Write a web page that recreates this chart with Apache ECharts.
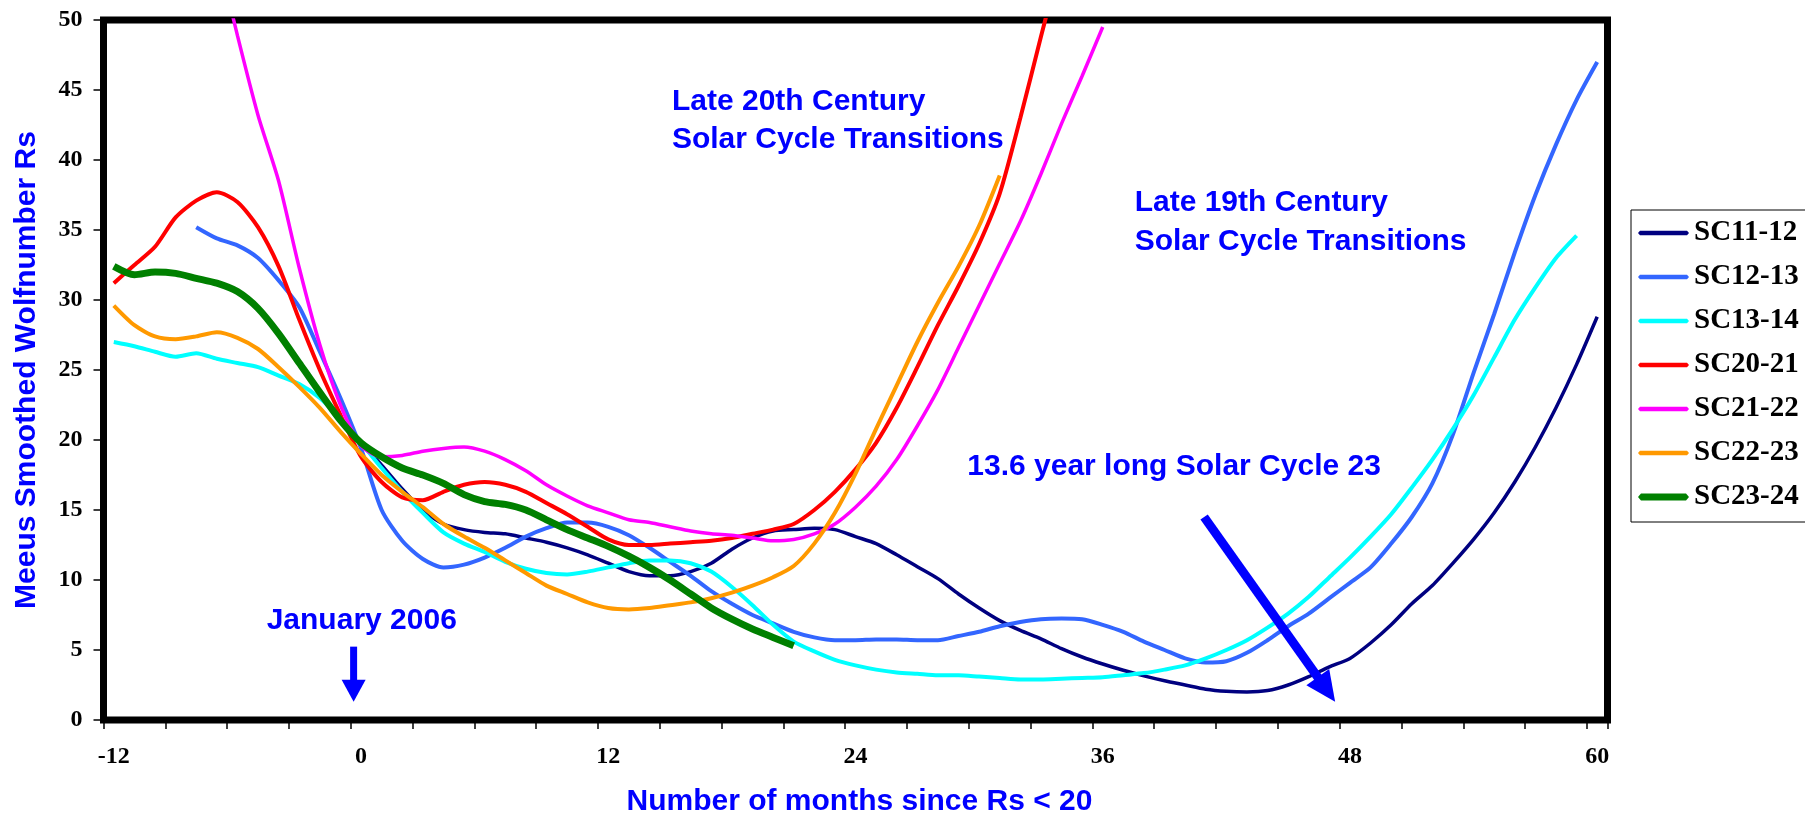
<!DOCTYPE html>
<html>
<head>
<meta charset="utf-8">
<script src="https://cdn.jsdelivr.net/npm/echarts@6/dist/echarts.min.js"></script>
<style>
html,body{margin:0;padding:0;background:#fff;}
#chart{width:1805px;height:815px;}
</style>
</head>
<body>
<div id="chart"></div>
<script>
// ---- categories (months since Rs < 20) ----
const months = [-12,-11,-10,-9,-8,-7,-6,-5,-4,-3,-2,-1,0,1,2,3,4,5,6,7,8,9,10,11,12,13,14,15,16,17,18,19,20,21,22,23,24,25,26,27,28,29,30,31,32,33,34,35,36,37,38,39,40,41,42,43,44,45,46,47,48,49,50,51,52,53,54,55,56,57,58,59,60];
const monthLabels = ['-12','0','12','24','36','48','60'];
const yTicks = [0,5,10,15,20,25,30,35,40,45,50];

// ---- series values (start month + monthly values) ----
const sc1112Start = 0;
const sc1112 = [19.8,18.2,16.5,15.0,14.0,13.6,13.4,13.3,13.0,12.7,
  12.3,11.8,11.2,10.6,10.3,10.3,10.6,11.2,12.2,13.0,
  13.5,13.6,13.7,13.6,13.1,12.6,11.8,10.95,10.1,9.0,
  8.0,7.1,6.4,5.8,5.1,4.5,4.0,3.55,3.15,2.8,
  2.5,2.2,2.05,2.0,2.1,2.5,3.1,3.8,4.4,5.5,
  6.8,8.3,9.6,11.2,12.9,14.8,17.0,19.5,22.3,25.4,28.8];

const sc1213Start = -8;
const sc1213 = [35.2,34.4,33.9,33.0,31.4,29.5,26.3,23.0,
  19.4,15.0,12.8,11.5,10.9,11.1,11.6,12.3,13.1,13.7,14.1,14.1,
  13.8,13.2,12.3,11.3,10.3,9.2,8.3,7.5,6.9,6.3,5.9,5.7,
  5.7,5.75,5.75,5.7,5.7,6.0,6.3,6.7,7.0,7.2,7.25,7.2,
  6.8,6.3,5.6,5.0,4.4,4.1,4.2,4.8,5.7,6.7,7.6,8.7,
  9.8,10.9,12.6,14.5,16.9,20.4,24.8,29.0,33.4,37.5,41.1,44.3,47.0];

const sc1314Start = -12;
const sc1314 = [27.0,26.7,26.3,25.95,26.2,25.8,25.5,25.2,24.6,24.0,23.0,21.5,
  19.8,18.0,16.3,14.8,13.4,12.6,12.0,11.3,10.8,10.5,10.4,10.6,
  10.9,11.2,11.4,11.4,11.2,10.6,9.5,8.2,6.8,5.6,4.9,4.3,
  3.9,3.6,3.4,3.3,3.2,3.2,3.1,3.0,2.9,2.9,2.95,3.0,
  3.05,3.2,3.35,3.6,3.9,4.4,5.0,5.7,6.6,7.6,8.8,10.2,
  11.6,13.1,14.7,16.6,18.6,20.8,23.2,25.9,28.6,30.9,33.0,34.6];

const sc2021Start = -12;
const sc2021 = [31.2,32.5,33.8,35.9,37.1,37.7,37.0,35.2,32.4,28.6,25.0,21.8,
  18.8,17.0,15.9,15.7,16.3,16.8,17.0,16.8,16.3,15.5,14.7,13.8,
  12.9,12.5,12.5,12.6,12.7,12.8,13.0,13.3,13.6,14.0,15.0,16.3,
  17.9,19.8,22.3,25.2,28.2,31.0,34.0,37.6,43.0,48.8,54.5];

const sc2122Start = -7;
const sc2122 = [55.0,48.9,43.2,38.5,32.3,26.8,22.5,
  19.6,18.8,18.9,19.2,19.4,19.5,19.2,18.6,17.8,16.8,16.0,15.3,
  14.8,14.3,14.1,13.8,13.5,13.3,13.2,13.0,12.8,12.9,13.3,14.0,
  15.2,16.7,18.6,21.0,23.6,26.6,29.6,32.6,35.6,39.0,42.6,46.0,49.5];

const sc2223Start = -12;
const sc2223 = [29.6,28.2,27.4,27.2,27.4,27.7,27.3,26.5,25.2,23.8,22.3,20.6,
  19.0,17.5,16.3,15.2,14.0,13.1,12.3,11.4,10.5,9.6,9.0,8.4,
  8.0,7.9,8.0,8.2,8.4,8.7,9.1,9.6,10.2,11.0,12.6,14.8,
  17.6,20.8,23.9,27.0,29.8,32.4,35.3,38.9];

const sc2324Start = -12;
const sc2324 = [32.4,31.8,32.0,31.9,31.55,31.2,30.6,29.4,27.6,25.5,23.4,21.4,
  19.8,18.8,18.0,17.5,16.9,16.1,15.6,15.4,15.0,14.3,13.6,13.0,
  12.4,11.7,10.9,10.0,9.0,8.0,7.2,6.5,5.9,5.3];

const seriesNames = ['SC11-12','SC12-13','SC13-14','SC20-21','SC21-22','SC22-23','SC23-24'];
const seriesStarts = [sc1112Start,sc1213Start,sc1314Start,sc2021Start,sc2122Start,sc2223Start,sc2324Start];
const seriesValues = [sc1112,sc1213,sc1314,sc2021,sc2122,sc2223,sc2324];
const seriesColors = ['#000080','#3366FF','#00FFFF','#FF0000','#FF00FF','#FF9900','#008000'];
const seriesWidths = [3.5,4,4,4,3.5,4,7];

// ---- annotations (anchored in data units: month, Rs) ----
const textBlocks = [
  {lines:['Late 20th Century','Solar Cycle Transitions'], x:15.09, y:[44.16,41.43], align:'left'},
  {lines:['Late 19th Century','Solar Cycle Transitions'], x:37.55, y:[36.93,34.14], align:'left'},
  {lines:['13.6 year long Solar Cycle 23'], x:49.5, y:[18.1], align:'right'},
  {lines:['January 2006'], x:-4.58, y:[7.07], align:'left'}
];
const arrows = [
  {from:[-0.36,5.24], to:[-0.36,1.31], shaft:7, headL:22, headW:24},
  {from:[40.92,14.5], to:[47.28,1.31], shaft:9, headL:30, headW:28}
];

const blue = '#0000FF';
const serif = '"Liberation Serif","Times New Roman",serif';
const sans = '"Liberation Sans",Arial,sans-serif';

// legend line samples: thin (4.5px) and thick (7px) bars inside a 51x7 box
const thinIcon = 'path://M0,0M51,7M2,1.25L49,1.25L51,3.5L49,5.75L2,5.75L0,3.5Z';
const thickIcon = 'path://M0,0M51,7M3,0L48,0L51,3.5L48,7L3,7L0,3.5Z';

const chart = echarts.init(document.getElementById('chart'), null, {renderer:'canvas'});

const series = seriesNames.map((name, k) => ({
  name: name,
  type: 'line',
  data: seriesValues[k].map((v, i) => [String(seriesStarts[k] + i), v]),
  symbol: 'none',
  smooth: 0.25,
  clip: true,
  lineStyle: {color: seriesColors[k], width: seriesWidths[k]},
  itemStyle: {color: seriesColors[k]},
  z: 3 + k
}));

chart.setOption({
  animation: false,
  backgroundColor: '#ffffff',
  grid: {
    left: 103.5, top: 20, right: 197.5, bottom: 95,
    containLabel: false,
    outerBoundsMode: 'none',
    show: true, borderColor: '#000', borderWidth: 7, backgroundColor: 'transparent'
  },
  xAxis: {
    type: 'category',
    data: months.map(String),
    boundaryGap: true,
    axisLine: {show: false},
    axisTick: {show: true, interval: 2, length: 9, lineStyle: {color: '#000', width: 1.5}},
    axisLabel: {
      interval: 11, margin: 25,
      formatter: v => (monthLabels.indexOf(v) >= 0 ? v : ''),
      fontFamily: serif, fontWeight: 'bold', fontSize: 24, color: '#000'
    },
    splitLine: {show: false},
    name: 'Number of months since Rs < 20',
    nameLocation: 'middle',
    nameGap: 67,
    nameTextStyle: {fontFamily: sans, fontWeight: 'bold', fontSize: 30, color: blue, padding: [0, 0, 0, 8]}
  },
  yAxis: {
    type: 'value',
    min: 0, max: 50, interval: 5,
    axisLine: {show: false},
    axisTick: {show: true, length: 10, lineStyle: {color: '#000', width: 1.5}},
    axisLabel: {
      margin: 21, fontFamily: serif, fontWeight: 'bold', fontSize: 24, color: '#000',
      formatter: v => (yTicks.indexOf(v) >= 0 ? String(v) : '')
    },
    splitLine: {show: false},
    name: 'Meeus Smoothed Wolfnumber Rs',
    nameLocation: 'middle',
    nameGap: 62,
    nameTextStyle: {fontFamily: sans, fontWeight: 'bold', fontSize: 30, color: blue}
  },
  legend: {
    orient: 'vertical',
    left: 1631, top: 210,
    padding: [8, 14, 10, 7],
    itemGap: 14,
    itemWidth: 51, itemHeight: 7,
    borderColor: '#000', borderWidth: 1,
    backgroundColor: '#fff',
    textStyle: {fontFamily: serif, fontWeight: 'bold', fontSize: 29, color: '#000', lineHeight: 30},
    data: seriesNames.map((n, k) => ({name: n, icon: seriesWidths[k] > 5 ? thickIcon : thinIcon}))
  },
  series: series
});

// pixel position of a (possibly fractional) month / value pair
function px(m, v) {
  const i = m - months[0];
  const i0 = Math.floor(i), f = i - i0;
  const a = chart.convertToPixel({gridIndex: 0}, [i0, v]);
  const b = chart.convertToPixel({gridIndex: 0}, [i0 + 1, v]);
  return [a[0] + f * (b[0] - a[0]), a[1]];
}

const graphics = [];
textBlocks.forEach(b => {
  b.lines.forEach((line, j) => {
    const p = px(b.x, b.y[j]);
    graphics.push({
      type: 'text', x: p[0], y: p[1], z: 50, silent: true,
      style: {text: line, fill: blue, font: 'bold 30px ' + sans, textAlign: b.align, textVerticalAlign: 'middle'}
    });
  });
});
arrows.forEach(a => {
  const p0 = px(a.from[0], a.from[1]);
  const p1 = px(a.to[0], a.to[1]);
  const dx = p1[0] - p0[0], dy = p1[1] - p0[1], L = Math.hypot(dx, dy);
  const ux = dx / L, uy = dy / L, nx = -uy, ny = ux;
  const bx = p1[0] - ux * a.headL, by = p1[1] - uy * a.headL;
  graphics.push({
    type: 'line', z: 50, silent: true,
    shape: {x1: p0[0], y1: p0[1], x2: bx + ux * 2, y2: by + uy * 2},
    style: {stroke: blue, lineWidth: a.shaft}
  });
  graphics.push({
    type: 'polygon', z: 50, silent: true,
    shape: {points: [[p1[0], p1[1]], [bx + nx * a.headW / 2, by + ny * a.headW / 2], [bx - nx * a.headW / 2, by - ny * a.headW / 2]]},
    style: {fill: blue}
  });
});
chart.setOption({graphic: graphics});
</script>
</body>
</html>
